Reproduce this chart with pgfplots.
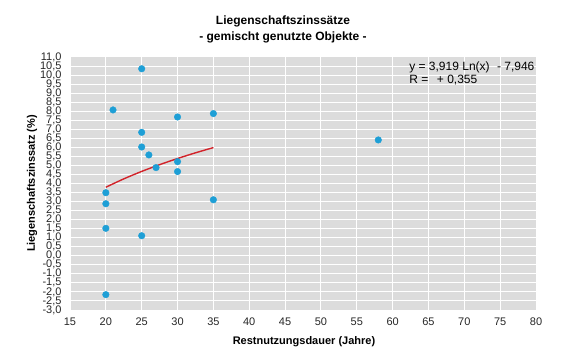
\documentclass[border=0pt]{standalone}
\usepackage{pgfplots}
\pgfplotsset{compat=1.18}
\usepackage{fontspec}
\setmainfont{Liberation Sans}
\definecolor{ptblue}{HTML}{1E9FD6}
\definecolor{trendred}{HTML}{D2232A}
\definecolor{plotbg}{HTML}{DCDCDC}
\begin{document}
\begin{tikzpicture}[x=1pt,y=1pt]
\path[use as bounding box] (0,0) rectangle (572,353);
\begin{axis}[
  at={(70pt,43pt)}, anchor=south west,
  scale only axis, width=466pt, height=253pt,
  xmin=15, xmax=80, ymin=-3, ymax=11,
  xtick={15,20,...,80},
  ytick={-3,-2.5,...,11},
  axis background/.style={fill=plotbg},
  axis line style={draw=none},
  major tick length=0pt,
  grid=major,
  major grid style={white, line width=1pt},
  /pgf/number format/assume math mode=true,
  yticklabel style={/pgf/number format/fixed, /pgf/number format/fixed zerofill, /pgf/number format/precision=1, /pgf/number format/use comma, /pgf/number format/1000 sep={}},
  xticklabel style={/pgf/number format/fixed, /pgf/number format/precision=0},
  tick label style={font=\fontsize{11}{11}\selectfont, text=black!85},
  yticklabel style={xshift=-5pt},
  xticklabel style={yshift=-4pt},
  clip=false,
]
\addplot[only marks, mark=*, mark size=3.3pt, mark options={fill=ptblue, draw=ptblue}] coordinates {
  (25,10.35) (21,8.07) (30,7.68) (35,7.87) (25,6.83) (25,6.02) (26,5.58)
  (27,4.88) (30,5.21) (30,4.66) (20,3.49) (20,2.88) (35,3.10) (20,1.52)
  (25,1.11) (20,-2.15) (58,6.41)
};
\addplot[trendred, line width=1.4pt, smooth] coordinates {
  (20,3.794) (22.5,4.256) (25,4.669) (27.5,5.042) (30,5.383) (32.5,5.697) (35,5.987)
};
\node[anchor=west, font=\fontsize{12}{12}\selectfont, inner sep=0pt] at (axis cs:62.3,10.42) {y = 3,919 Ln(x)\,\, - 7,946};
\node[anchor=west, font=\fontsize{12}{12}\selectfont, inner sep=0pt] at (axis cs:62.3,9.70) {R = \, + 0,355};
\end{axis}
\node[font=\bfseries\fontsize{12}{12}\selectfont] at (283,332) {Liegenschaftszinssätze};
\node[font=\bfseries\fontsize{12}{12}\selectfont] at (283,316) {- gemischt genutzte Objekte -};
\node[font=\bfseries\fontsize{11}{11}\selectfont] at (304,11) {Restnutzungsdauer (Jahre)};
\node[font=\bfseries\fontsize{11}{11}\selectfont, rotate=90] at (32,169.5) {Liegenschaftszinssatz (\%)};
\end{tikzpicture}
\end{document}
